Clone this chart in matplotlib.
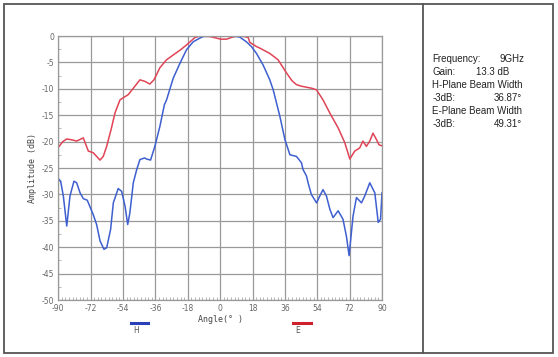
import matplotlib
matplotlib.use("Agg")
import matplotlib.pyplot as plt
from matplotlib.patches import Rectangle
from matplotlib.lines import Line2D
import numpy as np

plt.rcParams['axes.unicode_minus'] = False

# E-plane (red)
e_angle = [-90, -87.5, -85.3, -82, -79.8, -76.1, -73.3, -70.6, -66.8, -65, -63.1, -60.5,
           -58.5, -55.7, -51.1, -48.3, -44.6, -41.8, -39.1, -36.8, -33.5, -29.8, -26.1,
           -22, -18.7, -14.1, -11.3, -5.7, -2, 0.2, 3.6, 6, 9.1, 13.7, 15.6, 16.5, 20.2,
           22.1, 27.6, 32.2, 36.9, 40.0, 42.4, 45.0, 48.0, 51.0, 53.6, 57.2, 61.0, 65.6, 69.3, 72.1, 74.8,
           77.6, 79.4, 81.3, 83.2, 85.0, 86.9, 88.3, 90]
e_db = [-21.1, -20.0, -19.5, -19.7, -19.9, -19.3, -21.8, -22.1, -23.5, -22.8, -20.9, -17.5,
        -14.6, -12.1, -11.1, -9.9, -8.3, -8.6, -9.1, -8.3, -6.0, -4.5, -3.6,
        -2.6, -1.7, -0.3, 0, -0.1, -0.4, -0.6, -0.6, -0.3, 0, -0.1, -0.3, -1.2, -2.0,
        -2.3, -3.3, -4.5, -7.0, -8.5, -9.2, -9.5, -9.7, -9.9, -10.2, -12.1, -14.6, -17.4, -20.2, -23.3, -21.8,
        -21.2, -19.9, -20.9, -19.9, -18.4, -19.6, -20.6, -20.8]

# H-plane (blue)
h_angle = [-90, -88.7, -87.2, -85.3, -83.5, -81.3, -79.8, -77.9, -76.1, -73.9, -70.6, -68.7,
           -66.8, -64.6, -63.1, -60.9, -59.4, -56.7, -54.8, -52.9, -51.4, -50.2, -48.3,
           -46.4, -44.6, -42, -40.9, -38.7, -36.3, -33.5, -31, -29.8, -26.1, -22.4, -18.7,
           -15.0, -11.3, -9.4, -5, 0, 5, 9, 10.9, 14.6, 17.4, 20.2, 23.9, 27.6, 29.5, 33.2,
           36.0, 38.8, 42.4, 45.2, 46.1, 48.0, 48.9, 50.7, 53.6, 55.4, 57.2, 59.1, 61.0,
           62.8, 65.6, 68.3, 70.2, 71.7, 73.9, 75.8, 78.6, 80.4, 83.2, 86.0, 87.9, 89.2, 90]
h_db = [-27.0, -27.5, -30.3, -36.0, -30.3, -27.5, -27.8, -29.7, -30.8, -31.1, -33.8, -35.7,
        -38.8, -40.4, -40.1, -36.6, -31.6, -28.9, -29.4, -32.2, -35.7, -33.5, -27.8,
        -25.3, -23.4, -23.1, -23.3, -23.5, -20.9, -17.1, -13.0, -12.1, -8.0, -5.2, -2.6,
        -1.1, -0.4, -0.1, 0, 0, 0, -0.1, -0.2, -1.1, -2.0, -3.3, -5.5, -8.3, -10.2, -15.2,
        -19.6, -22.5, -22.8, -24.0, -25.3, -26.5, -27.8, -30.0, -31.6, -30.3, -29.1, -30.3, -32.8,
        -34.4, -33.1, -34.7, -37.9, -41.6, -34.1, -30.6, -31.6, -30.3, -27.8, -29.7, -35.3, -34.7, -29.7]

x_ticks = [-90, -72, -54, -36, -18, 0, 18, 36, 54, 72, 90]
y_ticks = [0, -5, -10, -15, -20, -25, -30, -35, -40, -45, -50]

info_left = ["Frequency:", "Gain:", "H-Plane Beam Width", "-3dB:", "E-Plane Beam Width", "-3dB:"]
info_right = ["9GHz", "13.3 dB", "", "36.87°", "", "49.31°"]

W, H = 558, 357
fig = plt.figure(figsize=(W / 100, H / 100), dpi=100)
fig.patch.set_facecolor('white')

def fx(px):
    return px / W

def fy(py):
    return 1 - py / H

# outer border and divider
fig.add_artist(Rectangle((fx(3.5), fy(352.5)), fx(553) - fx(3.5), fy(4) - fy(352.5),
                         transform=fig.transFigure, fill=False, edgecolor='#555555', lw=1.3))
fig.add_artist(Line2D([fx(422.7), fx(422.7)], [fy(4), fy(352.5)], transform=fig.transFigure,
                      color='#555555', lw=1.3))

ax = fig.add_axes([fx(58.3), fy(300), fx(382) - fx(58.3), fy(36) - fy(300)])
ax.plot(e_angle, e_db, color='#e04456', lw=1.1)
ax.plot(h_angle, h_db, color='#3e5fd0', lw=1.1)
ax.set_xlim(-90, 90)
ax.set_ylim(-50, 0)
ax.set_xticks(x_ticks)
ax.set_xticklabels([str(v) for v in x_ticks])
ax.set_yticks(y_ticks)
ax.set_yticklabels([str(v) for v in y_ticks])
ax.set_xticks(np.arange(-90, 91, 2), minor=True)
ax.set_yticks(np.arange(-50, 0.1, 2.5), minor=True)
ax.grid(True, which='major', color='#999999', lw=0.9)
ax.tick_params(which='major', length=0, labelsize=5.5, labelcolor='#666666', pad=3)
ax.tick_params(which='minor', direction='in', length=2.5, color='#aaaaaa', width=0.6)
ax.tick_params(axis='y', which='minor', left=True)
for s in ax.spines.values():
    s.set_color('#999999')
    s.set_linewidth(0.9)
ax.set_xlabel("Angle(° )", family='DejaVu Sans Mono', fontsize=6, color='#444444', labelpad=1)
ax.set_ylabel("Amplitude (dB)", family='DejaVu Sans Mono', fontsize=6, color='#444444', labelpad=3)

# legend
fig.add_artist(Line2D([fx(130.7), fx(148.3)], [fy(323.3), fy(323.3)], transform=fig.transFigure,
                      color='#2a40b8', lw=2.2))
fig.text(fx(136), fy(330.7), "H", fontsize=5.5, color='#555555', ha='center', va='center')
fig.add_artist(Line2D([fx(292.7), fx(310.7)], [fy(322.7), fy(322.7)], transform=fig.transFigure,
                      color='#d0202e', lw=2.2))
fig.text(fx(297.3), fy(330.7), "E", fontsize=5.5, color='#555555', ha='center', va='center')

# info text
ys = [59.3, 72, 84.8, 98, 111, 124]
right_x = [525, None, None, 522, None, 522]
for i, (l, r) in enumerate(zip(info_left, info_right)):
    fig.text(fx(432.3), fy(ys[i]), l, fontsize=7, family='Liberation Sans', color='#222222',
             ha='left', va='center')
    if r:
        if i == 1:
            fig.text(fx(476), fy(ys[i]), r, fontsize=7, family='Liberation Sans', color='#222222',
                     ha='left', va='center')
        else:
            fig.text(fx(right_x[i]), fy(ys[i]), r, fontsize=7, family='Liberation Sans',
                     color='#222222', ha='right', va='center')

fig.savefig("out.png", dpi=100)
